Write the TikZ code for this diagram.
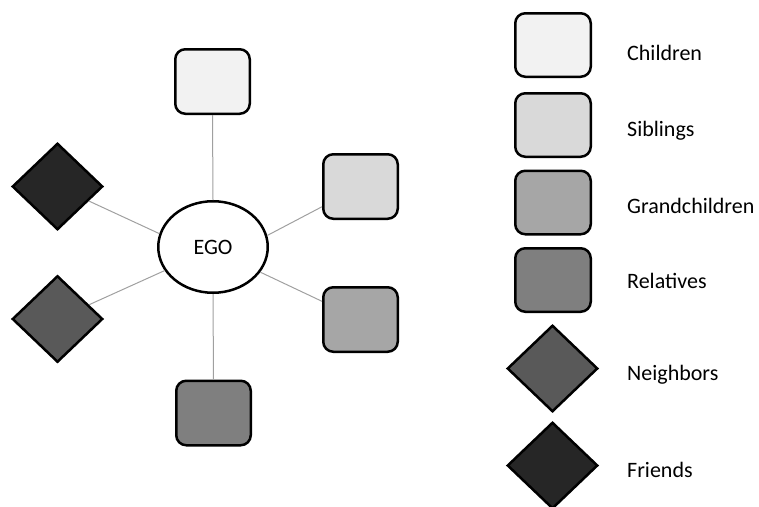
\documentclass[tikz,border=0pt]{standalone}
\usepackage{fontspec}
\setmainfont{Carlito}
\usetikzlibrary{shapes.geometric}
\definecolor{cChild}{HTML}{F2F2F2}
\definecolor{cSib}{HTML}{D9D9D9}
\definecolor{cGrand}{HTML}{A6A6A6}
\definecolor{cRel}{HTML}{7F7F7F}
\definecolor{cNeigh}{HTML}{595959}
\definecolor{cFriend}{HTML}{262626}
\definecolor{cLink}{HTML}{A0A0A0}
\tikzset{
  boxnode/.style={draw=black, line width=2.5pt, rounded corners=10pt, minimum width=74.5pt, minimum height=64.5pt, inner sep=0pt},
  legbox/.style={boxnode, minimum width=75.5pt, minimum height=63.5pt},
  dia/.style={draw=black, line width=2.5pt, diamond, minimum width=90.5pt, minimum height=86.5pt, inner sep=0pt},
  egonode/.style={draw=black, line width=2.5pt, ellipse, fill=white, minimum width=109.5pt, minimum height=91.5pt, inner sep=0pt},
  lbl/.style={anchor=base west, inner sep=0pt},
  link/.style={draw=cLink, line width=1pt}
}
\begin{document}
\begin{tikzpicture}[x=1pt, y=-1pt, font=\fontsize{22}{26}\selectfont]
\useasboundingbox (0,0) rectangle (759,506);
% network
\node[egonode] (ego) at (213,247) {EGO};
\node[boxnode, fill=cChild] (nchild) at (212.5,81.5) {};
\node[boxnode, fill=cSib] (nsib) at (360.5,186.5) {};
\node[boxnode, fill=cGrand] (ngrand) at (360.5,319.5) {};
\node[boxnode, fill=cRel] (nrel) at (213.5,413) {};
\node[dia, fill=cFriend] (nfriend) at (57.5,186.5) {};
\node[dia, fill=cNeigh] (nneigh) at (57.5,319) {};
\draw[link] (ego.north) -- (nchild.south);
\draw[link] (ego.south) -- (nrel.north);
\draw[link] (ego.12) -- (nsib);
\draw[link] (ego.-28) -- (ngrand);
\draw[link] (ego.166) -- (nfriend);
\draw[link] (ego.206) -- (nneigh);
% legend
\node[legbox, fill=cChild] (lchild) at (553,45) {};
\node[legbox, fill=cSib] (lsib) at (553,125) {};
\node[legbox, fill=cGrand] (lgrand) at (553,202.5) {};
\node[legbox, fill=cRel] (lrel) at (553,280) {};
\node[dia, fill=cNeigh] (lneigh) at (552.5,368.5) {};
\node[dia, fill=cFriend] (lfriend) at (552.5,465.5) {};
\node[lbl] (tchild) at (627,60.5) {Children};
\node[lbl] (tsib) at (627,136) {Siblings};
\node[lbl] (tgrand) at (627,213) {Grandchildren};
\node[lbl] (trel) at (627,288) {Relatives};
\node[lbl] (tneigh) at (627,380.5) {Neighbors};
\node[lbl] (tfriend) at (627,477) {Friends};
\end{tikzpicture}
\end{document}
